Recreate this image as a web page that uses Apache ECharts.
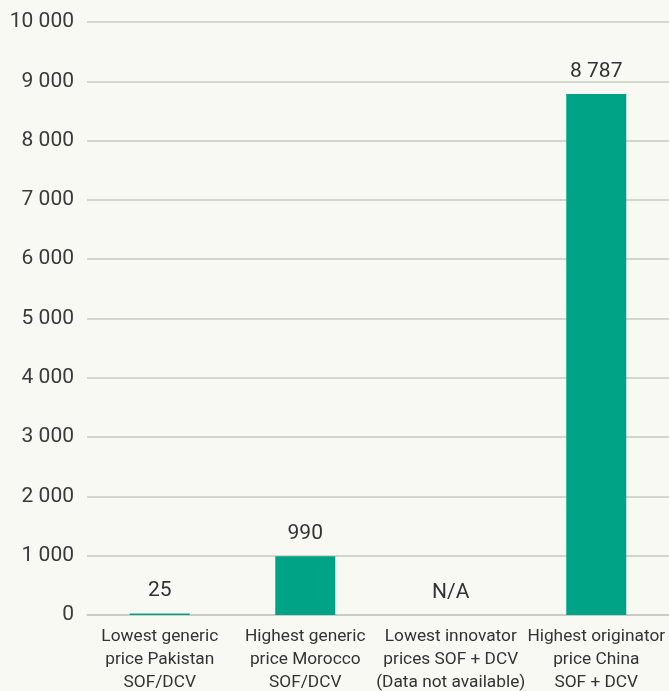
<!DOCTYPE html>
<html>
<head>
<meta charset="utf-8">
<script src="https://cdn.jsdelivr.net/npm/echarts@6/dist/echarts.min.js"></script>
<style>
html,body{margin:0;padding:0;background:#f9f9f4;}
#c{width:669px;height:691px;}
</style>
</head>
<body>
<div id="c"></div>
<script>
var categories = [
  "Lowest generic\nprice Pakistan\nSOF/DCV",
  "Highest generic\nprice Morocco\nSOF/DCV",
  "Lowest innovator\nprices SOF + DCV\n(Data not available)",
  "Highest originator\nprice China\nSOF + DCV"
];
var values = [25, 990, null, 8787];
var yMin = 0, yMax = 10000, yInterval = 1000;

function fmt(v){ return String(v).replace(/\B(?=(\d{3})+(?!\d))/g, " "); }

var seriesData = values.map(function(v){
  if (v === null) {
    return { value: 0, itemStyle: { color: 'rgba(0,0,0,0)' }, label: { formatter: 'N/A' } };
  }
  return { value: v };
});

var chart = echarts.init(document.getElementById('c'));
chart.setOption({
  backgroundColor: '#f9f9f4',
  animation: false,
  textStyle: { fontFamily: 'Roboto' },
  grid: { left: 87, right: 0, top: 22, bottom: 76, containLabel: false, outerBoundsMode: 'none' },
  xAxis: {
    type: 'category',
    data: categories,
    axisLine: { show: true, lineStyle: { color: '#c8c8c4', width: 1.5 } },
    axisTick: { show: false },
    axisLabel: { interval: 0, color: '#333', fontSize: 17.3, lineHeight: 23, margin: 10, fontFamily: 'Roboto' }
  },
  yAxis: {
    type: 'value',
    min: yMin, max: yMax, interval: yInterval,
    axisLine: { show: false },
    axisTick: { show: false },
    splitLine: { lineStyle: { color: '#c8c8c4', width: 1.5 } },
    axisLabel: { color: '#3a3a3a', fontSize: 21, margin: 13, formatter: function(v){ return fmt(v); }, fontFamily: 'Roboto' }
  },
  series: [{
    type: 'bar',
    data: seriesData,
    barWidth: 60,
    itemStyle: { color: '#00a385' },
    label: {
      show: true, position: 'top', distance: 12,
      color: '#333', fontSize: 21, fontFamily: 'Roboto',
      formatter: function(p){ return fmt(p.value); }
    }
  }]
});
</script>
</body>
</html>
